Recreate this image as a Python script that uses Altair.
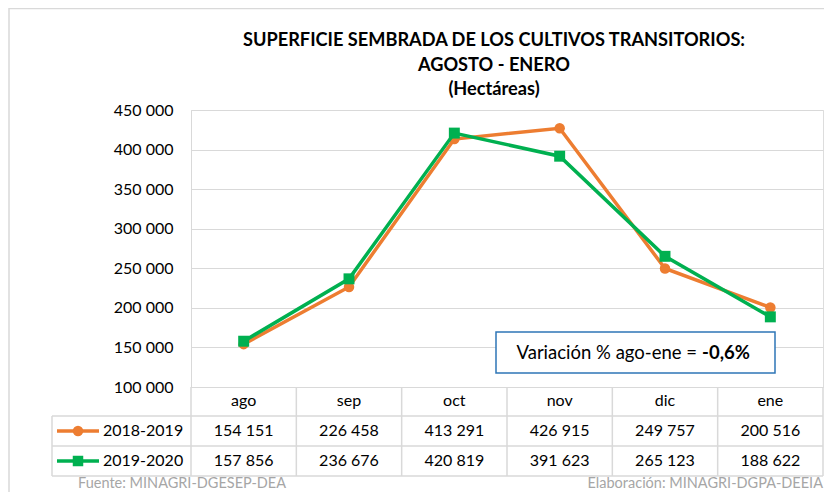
import altair as alt
import pandas as pd

# ---- data ----
months = ["ago", "sep", "oct", "nov", "dic", "ene"]
series_names = ["2018-2019", "2019-2020"]
values_1819 = [154151, 226458, 413291, 426915, 249757, 200516]
values_1920 = [157856, 236676, 420819, 391623, 265123, 188622]
colors = ["#ED7D31", "#00B050"]
y_ticks = [100000, 150000, 200000, 250000, 300000, 350000, 400000, 450000]
title_lines = [
    "SUPERFICIE SEMBRADA DE LOS CULTIVOS TRANSITORIOS:",
    "AGOSTO - ENERO",
    "(Hectáreas)",
]
note_text = "Variación % ago-ene ="
note_value = "-0,6%"
source_text = "Fuente: MINAGRI-DGESEP-DEA"
credit_text = "Elaboración: MINAGRI-DGPA-DEEIA"

FONT = "Lato"
GRID = "#d9d9d9"
W, H = 632, 277


def fmt(v):
    return f"{v:,}".replace(",", " ")


def series_df(vals):
    return pd.DataFrame({
        "idx": list(range(len(months))),
        "month": months,
        "value": vals,
        "label": [fmt(v) for v in vals],
    })


df_a = series_df(values_1819)
df_b = series_df(values_1920)
df_months = pd.DataFrame({"idx": list(range(len(months))), "month": months})
df_bounds = pd.DataFrame({"b": [i - 0.5 for i in range(len(months) + 1)]})
one = pd.DataFrame({"a": [0]})

xscale = alt.Scale(domain=[-0.5, len(months) - 0.5], nice=False, zero=False)
yscale = alt.Scale(domain=[y_ticks[0], y_ticks[-1]], nice=False, zero=False)
yaxis = alt.Axis(
    values=y_ticks,
    labelExpr="replace(format(datum.value, ','), ',', ' ')",
    title=None, grid=True, gridColor=GRID, domainColor=GRID, ticks=False,
    labelPadding=18, labelFont=FONT, labelFontSize=16, labelColor="#000000",
)
X = alt.X("idx:Q", scale=xscale, axis=None)
Y = alt.Y("value:Q", scale=yscale, axis=yaxis)

# outer frame
frame = alt.Chart(one).mark_rect(fill=None, stroke=GRID, strokeWidth=1.5).encode(
    x=alt.value(-182), x2=alt.value(W + 40), y=alt.value(-101.5), y2=alt.value(H + 150)
)

# table grid
row_lines = alt.layer(*[
    alt.Chart(one).mark_rule(color=GRID, strokeWidth=1.5).encode(
        x=alt.value(-139), x2=alt.value(W), y=alt.value(yy))
    for yy in (306, 336, 366)
])
left_line = alt.Chart(one).mark_rule(color=GRID, strokeWidth=1.5).encode(
    x=alt.value(-139), y=alt.value(306), y2=alt.value(366))
col_lines = alt.Chart(df_bounds).mark_rule(color=GRID, strokeWidth=1.5).encode(
    x=alt.X("b:Q", scale=xscale, axis=None), y=alt.value(277), y2=alt.value(366))

# annotation box
note_box = alt.Chart(one).mark_rect(fill="white", stroke="#2E75B6", strokeWidth=1.5).encode(
    x=alt.value(305), x2=alt.value(584), y=alt.value(222), y2=alt.value(263))
note_t1 = alt.Chart(one).mark_text(
    text=note_text, font=FONT, fontSize=18.5, align="right", baseline="middle", color="#000000"
).encode(x=alt.value(506), y=alt.value(243))
note_t2 = alt.Chart(one).mark_text(
    text=note_value, font=FONT, fontSize=18.5, fontWeight="bold", align="left",
    baseline="middle", color="#000000"
).encode(x=alt.value(511), y=alt.value(243))

# series
line_a = alt.Chart(df_a).mark_line(color=colors[0], strokeWidth=3.5).encode(x=X, y=Y)
pts_a = alt.Chart(df_a).mark_point(shape="circle", filled=True, opacity=1, size=110,
                                   color=colors[0]).encode(x=X, y=Y)
line_b = alt.Chart(df_b).mark_line(color=colors[1], strokeWidth=3.5).encode(x=X, y=Y)
pts_b = alt.Chart(df_b).mark_point(shape="square", filled=True, opacity=1, size=120,
                                   color=colors[1]).encode(x=X, y=Y)

# table texts
hdr = alt.Chart(df_months).mark_text(font=FONT, fontSize=16, color="#000000", baseline="middle").encode(
    x=X, y=alt.value(291), text="month:N")
row_a = alt.Chart(df_a).mark_text(font=FONT, fontSize=16, color="#000000", baseline="middle").encode(
    x=X, y=alt.value(321), text="label:N")
row_b = alt.Chart(df_b).mark_text(font=FONT, fontSize=16, color="#000000", baseline="middle").encode(
    x=X, y=alt.value(351), text="label:N")

legend_layers = []
for name, col, shape, yy in zip(series_names, colors, ["circle", "square"], [321, 351]):
    legend_layers.append(alt.Chart(one).mark_rule(color=col, strokeWidth=3.5).encode(
        x=alt.value(-134), x2=alt.value(-92), y=alt.value(yy)))
    legend_layers.append(alt.Chart(one).mark_point(shape=shape, filled=True, opacity=1,
                                                   size=110, color=col).encode(
        x=alt.value(-113), y=alt.value(yy)))
    legend_layers.append(alt.Chart(one).mark_text(
        text=name, font=FONT, fontSize=16, align="left", baseline="middle", color="#000000"
    ).encode(x=alt.value(-88), y=alt.value(yy)))

# titles
title_layers = [
    alt.Chart(one).mark_text(text=t, font=FONT, fontSize=18.2, fontWeight="bold",
                             align="center", baseline="middle", color="#000000").encode(
        x=alt.value(303), y=alt.value(yy))
    for t, yy in zip(title_lines, [-69, -44, -20])
]

# footer
foot1 = alt.Chart(one).mark_text(text=source_text, font=FONT, fontSize=14.5, align="left",
                                 baseline="middle", color="#a6a6a6").encode(
    x=alt.value(-113), y=alt.value(374))
foot2 = alt.Chart(one).mark_text(text=credit_text, font=FONT, fontSize=14.5, align="right",
                                 baseline="middle", color="#a6a6a6").encode(
    x=alt.value(W), y=alt.value(374))

chart = alt.layer(
    frame, line_a, row_lines, left_line, col_lines, note_box, note_t1, note_t2,
    pts_a, line_b, pts_b, hdr, row_a, row_b, *legend_layers, *title_layers, foot1, foot2,
).properties(
    width=W, height=H,
    autosize=alt.AutoSizeParams(type="none"),
    padding={"left": 183, "top": 102, "right": 1, "bottom": 105},
).configure_view(stroke=GRID, strokeWidth=1.5).configure(font=FONT)

chart.save("out.html", embed_options={"renderer": "svg", "actions": False})
